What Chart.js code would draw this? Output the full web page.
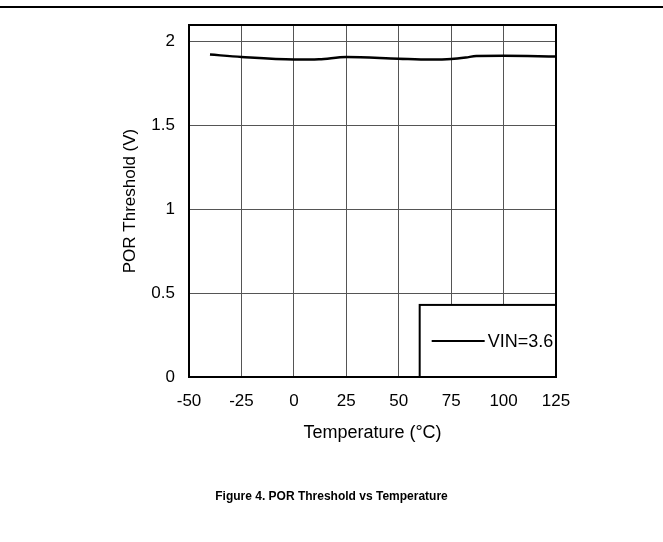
<!DOCTYPE html>
<html>
<head>
<meta charset="utf-8">
<script src="https://cdn.jsdelivr.net/npm/chart.js@4"></script>
<style>
  html, body { margin: 0; padding: 0; background: #fff; }
  #wrap { position: relative; width: 663px; height: 542px; overflow: hidden; }
  #rule { position: absolute; left: 0; top: 6px; width: 663px; height: 2px; background: #000; }
  #caption { position: absolute; left: 0; top: 489px; width: 663px; text-align: center;
             font: bold 12px Arial, "Liberation Sans", sans-serif; color: #000; }
  canvas { position: absolute; left: 0; top: 0; }
</style>
</head>
<body>
<div id="wrap">
  <canvas id="c" width="663" height="542"></canvas>
  <div id="rule"></div>
  <div id="caption">Figure 4. POR Threshold vs Temperature</div>
</div>
<script>
// ---- data ----
const temperatures = [-40, -25, 0, 12, 25, 50, 65, 75, 82, 87, 100, 125];
const porThreshold = [1.924, 1.909, 1.894, 1.896, 1.909, 1.899, 1.894, 1.897, 1.906, 1.915, 1.916, 1.912];
const seriesLabel = 'VIN=3.6';
const xTicks = [-50, -25, 0, 25, 50, 75, 100, 125];
const yTicks = [0, 0.5, 1, 1.5, 2];

const FONT = 'Arial, "Liberation Sans", sans-serif';

const framePlugin = {
  id: 'frameAndLegend',
  afterDatasetsDraw(chart) {
    const ctx = chart.ctx;
    const a = chart.chartArea;
    const xs = chart.scales.x, ys = chart.scales.y;
    ctx.save();
    // legend box inside plot (lower right)
    const bx = xs.getPixelForValue(60);
    const by = ys.getPixelForValue(0.43);
    ctx.fillStyle = '#fff';
    ctx.fillRect(bx, by, a.right - bx, a.bottom - by);
    ctx.strokeStyle = '#000';
    ctx.lineWidth = 2;
    ctx.strokeRect(bx, by, a.right - bx, a.bottom - by);
    const cy = (by + a.bottom) / 2;
    ctx.beginPath();
    ctx.moveTo(bx + 12, cy);
    ctx.lineTo(bx + 65, cy);
    ctx.lineWidth = 2;
    ctx.stroke();
    ctx.fillStyle = '#000';
    ctx.font = '18px ' + FONT;
    ctx.textBaseline = 'middle';
    ctx.textAlign = 'left';
    ctx.fillText(chart.data.datasets[0].label, bx + 68, cy + 1);
    // plot frame
    ctx.lineWidth = 2;
    ctx.strokeRect(a.left, a.top, a.right - a.left, a.bottom - a.top);
    ctx.restore();
  }
};

new Chart(document.getElementById('c'), {
  type: 'scatter',
  data: {
    datasets: [{
      label: seriesLabel,
      data: temperatures.map((t, i) => ({ x: t, y: porThreshold[i] })),
      showLine: true,
      borderColor: '#000',
      borderWidth: 2.5,
      pointRadius: 0,
      cubicInterpolationMode: 'monotone',
      fill: false
    }]
  },
  options: {
    responsive: false,
    animation: false,
    devicePixelRatio: 1,
    layout: { padding: { left: 116, right: 107, top: 25, bottom: 94 } },
    plugins: { legend: { display: false }, tooltip: { enabled: false } },
    scales: {
      x: {
        type: 'linear',
        min: -50, max: 125,
        afterBuildTicks: s => { s.ticks = xTicks.map(v => ({ value: v })); },
        afterFit: s => { s.height = 71; },
        grid: { color: '#555', lineWidth: 1, drawTicks: false },
        border: { color: '#000', width: 2 },
        ticks: { color: '#000', font: { family: FONT, size: 17 }, padding: 14, maxRotation: 0,
                 callback: v => String(v) },
        title: { display: true, text: 'Temperature (°C)', color: '#000', font: { family: FONT, size: 18 }, padding: 4 }
      },
      y: {
        type: 'linear',
        min: 0, max: 2.1,
        afterBuildTicks: s => { s.ticks = yTicks.map(v => ({ value: v })); },
        afterFit: s => { s.width = 73; },
        grid: { color: '#555', lineWidth: 1, drawTicks: false },
        border: { color: '#000', width: 2 },
        ticks: { color: '#000', font: { family: FONT, size: 17 }, padding: 14,
                 callback: v => String(v) },
        title: { display: true, text: 'POR Threshold (V)', color: '#000', font: { family: FONT, size: 17 }, padding: 4 }
      }
    }
  },
  plugins: [framePlugin]
});
</script>
</body>
</html>
